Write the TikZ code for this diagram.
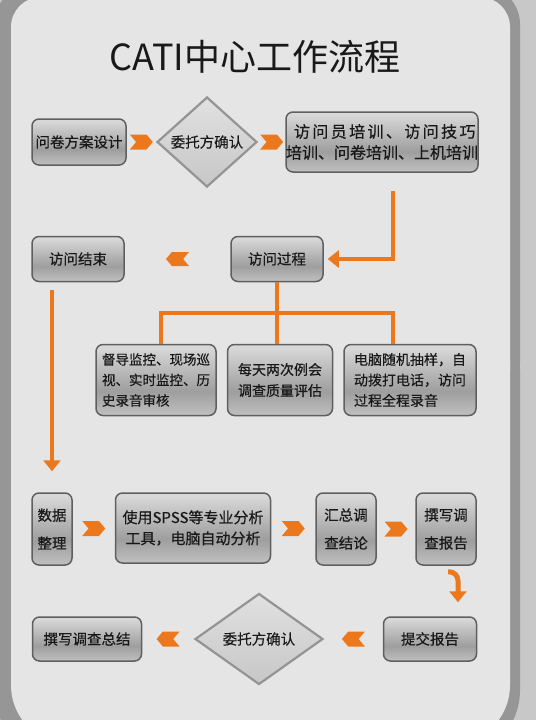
\documentclass[tikz,border=0pt]{standalone}
\usepackage{fontspec}
\setmainfont{Noto Sans CJK SC}
\newfontfamily\boxfont{Noto Sans CJK SC}[FakeBold=0.5]
\newcommand{\boxtxt}[2]{\boxfont\fontsize{#1}{#2}\selectfont}
\usetikzlibrary{shapes,arrows.meta,positioning,calc}
\definecolor{orgC}{RGB}{236,120,30}
\definecolor{rimC}{RGB}{150,150,150}
\definecolor{panelC}{RGB}{229,229,229}
\definecolor{bgC}{RGB}{200,200,200}
\definecolor{edgeC}{RGB}{95,95,95}
\definecolor{txtC}{RGB}{25,25,25}
\pgfdeclareverticalshading{glossy}{100bp}{color(0bp)=(white!97!black); color(14bp)=(black!16); color(42bp)=(black!38); color(72bp)=(black!16); color(100bp)=(white!97!black)}
\tikzstyle{box} = [draw=edgeC, line width=1.5pt, rectangle, rounded corners=7pt, shading=glossy, text=txtC, inner sep=0pt, align=center, font=\boxtxt{14.5}{21}]
\tikzstyle{dia} = [draw=black!42, line width=2.2pt, diamond, top color=black!12, bottom color=black!22, text=txtC, inner sep=0pt, font=\boxtxt{14.5}{21}]
\tikzstyle{chevR} = [signal, signal from=west, signal to=east, fill=orgC, minimum width=23pt, minimum height=15pt, inner sep=0pt, signal pointer angle=100]
\tikzstyle{chevL} = [chevR, signal from=east, signal to=west]
\tikzstyle{oline} = [draw=orgC, line width=4pt]
\tikzstyle{oarrow} = [oline, -{Triangle[width=17pt,length=11pt]}]

\begin{document}
\begin{tikzpicture}[x=1pt, y=-1pt]
    \useasboundingbox (0,0) rectangle (536,720);
    % panel
    \fill[bgC] (0,0) rectangle (536,720);
    \fill[rimC, rounded corners=38pt] (-6,-14) rectangle (520,400);
    \fill[rimC, rounded corners=70pt] (-6,300) rectangle (520,760);
    \fill[panelC, rounded corners=30pt] (11,-3) rectangle (510,400);
    \fill[panelC, rounded corners=60pt] (11,300) rectangle (510,745);

    \node [font=\fontsize{36}{40}\selectfont, text=txtC] (title) at (255,57) {CATI中心工作流程};

    % first row
    \node [box, minimum width=94pt, minimum height=46pt] (plan) at (79,142) {问卷方案设计};
    \node [dia, minimum width=100pt, minimum height=90pt] (ok1) at (207,142) {委托方确认};
    \node [box, minimum width=190pt, minimum height=60pt, font=\boxtxt{16}{21}] (train) at (382,142) {\makebox[176pt][s]{访 问 员 培 训 、 访 问 技 巧}\\培训、问卷培训、上机培训};
    \node [chevR] (a1) at ($(plan.east)!0.5!(ok1.west)$) {};
    \node [chevR] (a2) at ($(ok1.east)!0.5!(train.west)$) {};

    % interview
    \node [box, minimum width=92pt, minimum height=45pt] (done) at (78,259) {访问结束};
    \node [box, minimum width=92pt, minimum height=45pt] (proc) at (277,259) {访问过程};
    \node [chevL, minimum height=14pt] (a3) at ($(done.east)!0.5!(proc.west)$) {};

    \node [box, minimum width=120pt, minimum height=71pt, align=left, font=\boxtxt{13.5}{20.5}] (superv) at (156,380) {督导监控、现场巡\\视、实时监控、历\\史录音审核};
    \node [box, minimum width=105pt, minimum height=71pt, font=\boxtxt{14}{21}] (meet) at (280,380) {每天两次例会\\调查质量评估};
    \node [box, minimum width=132pt, minimum height=71pt, align=left, font=\boxtxt{14}{20.5}] (cati) at (410,380) {电脑随机抽样，自\\动拨打电话，访问\\过程全程录音};

    % analysis
    \node [box, minimum width=40pt, minimum height=72pt, font=\boxtxt{14.5}{28}] (data) at (52,529) {数据\\整理};
    \node [box, minimum width=155pt, minimum height=70pt, font=\boxtxt{15}{21}] (spss) at (193,528) {使用SPSS等专业分析\\工具，电脑自动分析};
    \node [box, minimum width=60pt, minimum height=72pt, font=\boxtxt{14.5}{28}] (concl) at (346,529) {汇总调\\查结论};
    \node [box, minimum width=60pt, minimum height=72pt, font=\boxtxt{14.5}{28}] (rep) at (446,529) {撰写调\\查报告};
    \node [chevR] (a4) at ($(data.east)!0.5!(spss.west)$) {};
    \node [chevR] (a5) at ($(spss.east)!0.5!(concl.west)$) {};
    \node [chevR] (a6) at ($(concl.east)!0.5!(rep.west)$) {};

    % last row
    \node [box, minimum width=109pt, minimum height=44pt] (summ) at (87,639) {撰写调查总结};
    \node [dia, minimum width=128pt, minimum height=91pt] (ok2) at (259,639) {委托方确认};
    \node [box, minimum width=93pt, minimum height=44pt] (sub) at (430,639) {提交报告};
    \node [chevL] (a7) at ($(summ.east)!0.5!(ok2.west)$) {};
    \node [chevL] (a8) at ($(ok2.east)!0.5!(sub.west)$) {};

    % connectors
    \coordinate (hubL) at (161,313);
    \coordinate (hubR) at (393,313);
    \path [oarrow, shorten >=4pt] ([xshift=11pt,yshift=-18pt]train.south) |- (proc.east);
    \path [oline] (proc.south) -- (proc.south |- meet.north);
    \path [oline] (hubL |- superv.north) -- (hubL) -- (hubR) -- (hubR |- cati.north);
    \path [oarrow] ($(done.south -| data.north)+(0,8)$) -- ($(data.north)+(0,-21)$);
    \path [oarrow, line width=5pt, rounded corners=9pt] ($(rep.south)+(2,6)$) -| ($(sub.north)+(28,-14)$);
\end{tikzpicture}
\end{document}
